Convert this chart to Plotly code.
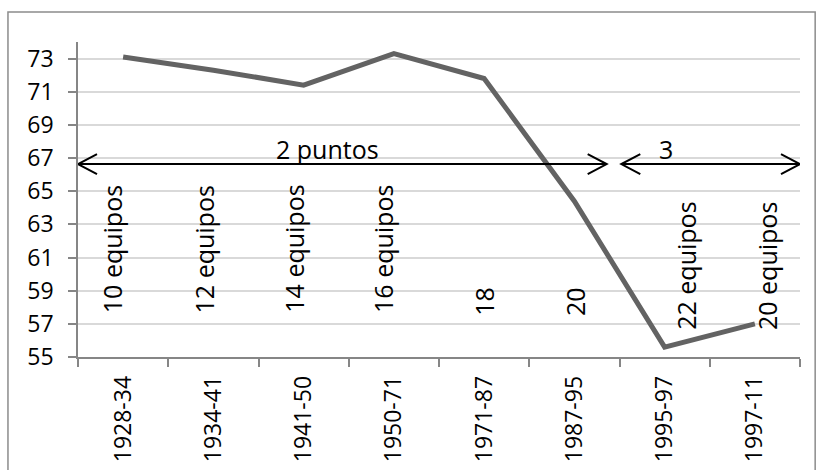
import plotly.graph_objects as go

periods = ["1928-34", "1934-41", "1941-50", "1950-71", "1971-87", "1987-95", "1995-97", "1997-11"]
values = [73.1, 72.3, 71.4, 73.3, 71.8, 64.4, 55.6, 57.0]
team_labels = ["10 equipos", "12 equipos", "14 equipos", "16 equipos", "18", "20", "22 equipos", "20 equipos"]
y_ticks = [55, 57, 59, 61, 63, 65, 67, 69, 71, 73]

# label styling (placement)
label_y = [57.53, 57.53, 57.53, 57.53, 57.35, 57.35, 56.5, 56.5]
label_xshift = [-11, -9, -10, -11, -1, 0, 21, 12]

FONT = "Open Sans"
AX = "#868686"

fig = go.Figure()
fig.add_trace(go.Scatter(
    x=periods, y=values, mode="lines",
    line=dict(color="#636363", width=5),
    hoverinfo="skip", showlegend=False,
))

annotations = []
for i, t in enumerate(team_labels):
    annotations.append(dict(
        x=i, y=label_y[i], xref="x", yref="y", text=t, showarrow=False,
        textangle=-90, xanchor="center", yanchor="bottom", xshift=label_xshift[i],
        font=dict(family=FONT, size=25, color="black"),
    ))

arrow_y = 66.64
annotations.append(dict(x=2.27, y=67.55, xref="x", yref="y", text="2 puntos", showarrow=False,
                        font=dict(family=FONT, size=25, color="black")))
annotations.append(dict(x=6.02, y=67.55, xref="x", yref="y", text="3", showarrow=False,
                        font=dict(family=FONT, size=25, color="black")))

shapes = []
# outer border
shapes.append(dict(type="rect", xref="paper", yref="paper", x0=-0.097, x1=1.021, y0=-0.5, y1=1.095,
                   line=dict(color="#8c8c8c", width=1.5), fillcolor="rgba(0,0,0,0)", layer="below"))
# arrows
for (xa, xb) in [(-0.5, 5.358), (5.52, 7.5)]:
    shapes.append(dict(type="line", xref="x", yref="y", x0=xa, x1=xb, y0=arrow_y, y1=arrow_y,
                       line=dict(color="black", width=2)))
    shapes.append(dict(type="path", xref="x", yref="y", xsizemode="pixel", ysizemode="pixel",
                       xanchor=xa, yanchor=arrow_y, path="M19,10 L0,0 L19,-10",
                       line=dict(color="black", width=2)))
    shapes.append(dict(type="path", xref="x", yref="y", xsizemode="pixel", ysizemode="pixel",
                       xanchor=xb, yanchor=arrow_y, path="M-19,10 L0,0 L-19,-10",
                       line=dict(color="black", width=2)))

fig.update_layout(
    width=818, height=470,
    margin=dict(l=78, r=18, t=42, b=113),
    paper_bgcolor="white", plot_bgcolor="white",
    annotations=annotations, shapes=shapes,
    font=dict(family=FONT, color="black"),
)
fig.update_yaxes(
    range=[55, 74], tickvals=y_ticks, showline=True, linecolor=AX, linewidth=1.5,
    ticks="outside", ticklen=8, tickcolor=AX, tickwidth=1.5,
    gridcolor="#d9d9d9", gridwidth=1.5, zeroline=False, automargin=False,
    tickfont=dict(family=FONT, size=23, color="black"), ticklabelstandoff=10,
)
fig.update_xaxes(
    type="category", range=[-0.5, 7.5], showline=True, linecolor=AX, linewidth=1.5,
    ticks="outside", ticklen=8, tickcolor=AX, tickwidth=1.5, tickson="boundaries",
    showgrid=False, tickangle=-90, automargin=False,
    tickfont=dict(family=FONT, size=23, color="black"), ticklabelstandoff=8,
)

fig.write_html("out.html", config={"displayModeBar": False},
               post_script="document.body.style.margin='0';document.body.style.overflow='hidden';")
